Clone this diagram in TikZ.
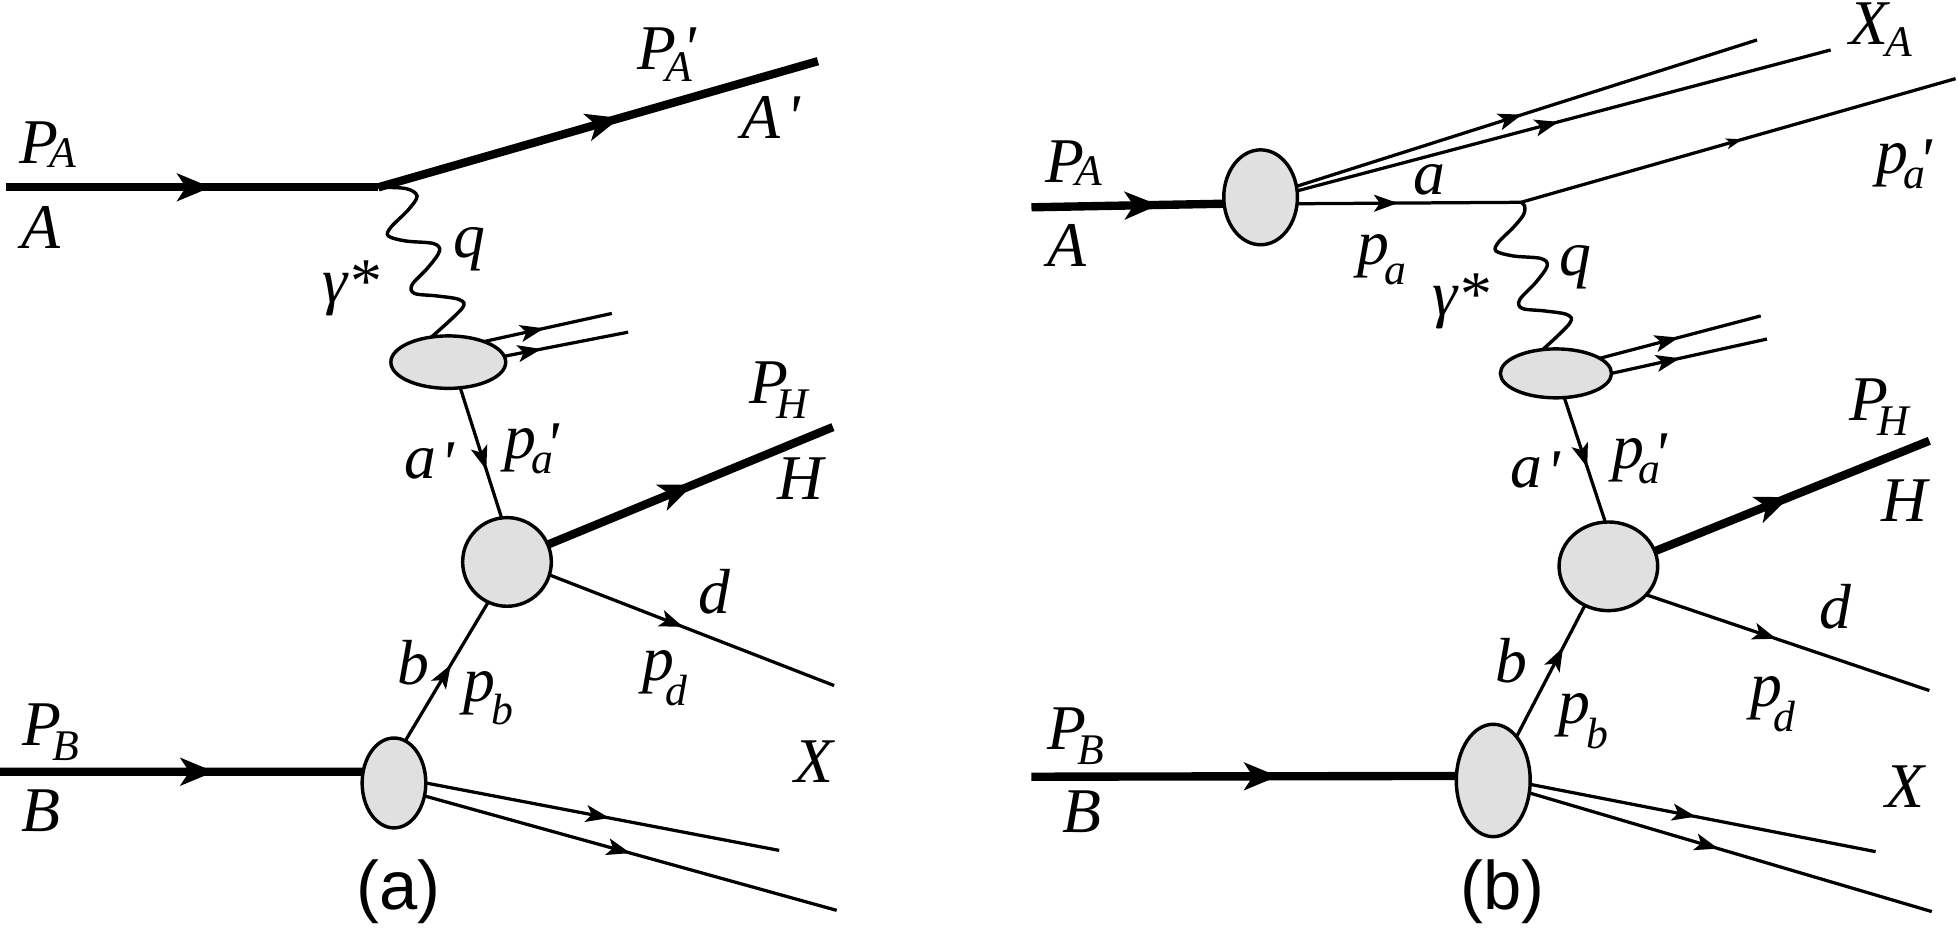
\documentclass[tikz,border=0pt]{standalone}
\usepackage{fontspec}
\setmainfont{Liberation Serif}[ItalicFont={Liberation Serif Italic}]
\newfontfamily\capfont{Liberation Sans}
\usetikzlibrary{arrows.meta,decorations.markings,shapes.geometric}
\definecolor{blobgray}{RGB}{224,224,224}
% subscript: drop, kern, text (overlapping box)
\newcommand\sbs[3]{\rlap{\kern#2\raisebox{-#1}{\fontsize{7}{7}\selectfont #3}}}
\newcommand\prm{\textquotesingle}
\begin{document}
\begin{tikzpicture}[x=0.2pt,y=-0.2pt,
  thickln/.style={line width=1.34pt},
  thinln/.style={line width=0.52pt},
  photon/.style={line width=0.55pt},
  blob/.style={ellipse,draw,line width=0.55pt,fill=blobgray,inner sep=0pt,outer sep=0pt},
  marr/.style={postaction={decorate,decoration={markings,mark=at position #1 with {\arrow{Stealth[length=3.8pt,width=2.7pt,inset=0.9pt]}}}}},
  marrsmall/.style={postaction={decorate,decoration={markings,mark=at position #1 with {\arrow{Stealth[length=2.6pt,width=1.7pt,inset=0.6pt]}}}}},
  marrthick/.style={postaction={decorate,decoration={markings,mark=at position #1 with {\arrow{Stealth[length=5.4pt,width=4.4pt,inset=1.4pt]}}}}},
  lbl/.style={anchor=base west,inner sep=0pt,font=\fontsize{10.2}{12}\selectfont\itshape},
  captext/.style={anchor=base,inner sep=0pt,font=\fontsize{11}{13}\selectfont\capfont}]
\fill[white] (0,0) rectangle (1568,747);
\useasboundingbox (0,0) rectangle (1568,747);

% ================= panel (a) =================
\coordinate (aS) at (5,150);
\coordinate (aV) at (303,150);
\coordinate (aAe) at (655,49);
\coordinate (aU1) at (490,251);
\coordinate (aU2) at (503,266);
\coordinate (aHe) at (667,342);
\coordinate (aDe) at (668,549);
\coordinate (aBs) at (0,618);
\coordinate (aX1) at (624,681);
\coordinate (aX2) at (670,729);

\node[blob,minimum width=18.4pt,minimum height=8.4pt] (ea1) at (359,290) {};
\node[blob,minimum width=14.2pt,minimum height=14.2pt] (ea2) at (406,450) {};
\node[blob,minimum width=10.2pt,minimum height=14.4pt] (ea3) at (315.5,627) {};

\draw[thickln,marrthick=0.55] (aS) -- (aV);
\draw[thickln,marrthick=0.55] (aV) -- (aAe);
\draw[photon] plot[smooth,tension=0.55] coordinates {(aV) (325,151) (334,157) (327,168) (313,182) (311,189) (325,193) (347,195) (352,201) (343,214) (330,228) (332,235) (350,237) (368,240) (370,247) (ea1.124)};
\draw[thinln,marr=0.47] (ea1.30) -- (aU1);
\draw[thinln,marr=0.3] (ea1.6) -- (aU2);
\draw[thinln,marr=0.63] (ea1.-65) -- (ea2.97);
\draw[thickln,marrthick=0.51] (ea2.23) -- (aHe);
\draw[thinln,marr=0.47] (ea2.-17) -- (aDe);
\draw[thinln,marr=0.55] (ea3.75) -- (ea2.-115);
\draw[thickln,marrthick=0.59] (aBs) -- (ea3.160);
\draw[thinln,marr=0.52] (ea3.0) -- (aX1);
\draw[thinln,marr=0.5] (ea3.-23) -- (aX2);

\node[lbl] (tPA) at (14.7,131) {P\sbs{0.55pt}{-1.4pt}{A}};
\node[lbl] (tA) at (16,198.6) {A};
\node[lbl] (tPAp) at (509.7,55.5) {P\sbs{2pt}{-1.8pt}{A}\kern1pt\prm};
\node[lbl] (tAp) at (592.5,110.8) {A\kern1pt\prm};
\node[lbl] (tgam) at (257,242) {γ*};
\node[lbl] (tq) at (362,206) {q};
\node[lbl] (tap) at (323,383) {a\kern0.6pt\raisebox{-1pt}{\prm}};
\node[lbl] (tpap) at (403,367) {p\sbs{2.4pt}{-0.8pt}{a}\kern1.5pt\raisebox{-1.2pt}{\prm}};
\node[lbl] (tPH) at (599,323) {P\sbs{2.4pt}{-1.8pt}{H}};
\node[lbl] (tH) at (621.8,400.3) {H};
\node[lbl] (td) at (558,491) {d};
\node[lbl] (tpd) at (513.7,545) {p\sbs{4pt}{-1.4pt}{d}};
\node[lbl] (tb) at (317.6,548.4) {b};
\node[lbl] (tpb) at (369.8,562) {p\sbs{3.7pt}{-0.6pt}{b}};
\node[lbl] (tPB) at (17,597) {P\sbs{2.4pt}{-1.5pt}{B}};
\node[lbl] (tB) at (16,666) {B};
\node[lbl] (tX) at (635,627) {X};
\node[captext] (capa) at (319,728) {(a)};

% ================= panel (b) =================
\coordinate (bS) at (826,166);
\coordinate (bXA1) at (1407,32);
\coordinate (bXA2) at (1466,40);
\coordinate (bV) at (1218,162);
\coordinate (bpa) at (1566,63);
\coordinate (bU1) at (1410,253);
\coordinate (bU2) at (1415,271.5);
\coordinate (bHe) at (1545,353);
\coordinate (bDe) at (1545,553);
\coordinate (bBs) at (826,622);
\coordinate (bX1) at (1502,682);
\coordinate (bX2) at (1547,730);

\node[blob,minimum width=11.8pt,minimum height=15.2pt] (eb0) at (1009.5,158) {};
\node[blob,minimum width=17.8pt,minimum height=7.84pt] (eb1) at (1246,299) {};
\node[blob,minimum width=15.8pt,minimum height=14.2pt] (eb2) at (1288,453.5) {};
\node[blob,minimum width=11.84pt,minimum height=18pt] (eb3) at (1195.8,625) {};

\draw[thickln,marrthick=0.66] (bS) -- (eb0.190);
\draw[thinln,marr=0.49] (eb0.17) -- (bXA1);
\draw[thinln,marr=0.49] (eb0.10) -- (bXA2);
\draw[thinln,marr=0.45] (eb0.-10) -- (bV);
\draw[thinln,marrsmall=0.51] (bV) -- (bpa);
\draw[photon] plot[smooth,tension=0.55] coordinates {(bV) (1221,165) (1220,172) (1212,182) (1200,194) (1198,201) (1212,205) (1234,207) (1239,213) (1230,226) (1217,240) (1219,247) (1237,249) (1255,252) (1257,259) (eb1.119)};
\draw[thinln,marr=0.49] (eb1.19) -- (bU1);
\draw[thinln,marr=0.44] (eb1.0) -- (bU2);
\draw[thinln,marr=0.56] (eb1.-71) -- (eb2.94);
\draw[thickln,marrthick=0.49] (eb2.18) -- (bHe);
\draw[thinln,marr=0.46] (eb2.-37) -- (bDe);
\draw[thinln,marr=0.68] (eb3.62) -- (eb2.-121);
\draw[thickln,marrthick=0.58] (bBs) -- (eb3.173);
\draw[thinln,marr=0.48] (eb3.-6) -- (bX1);
\draw[thinln,marr=0.47] (eb3.-19) -- (bX2);

\node[lbl] (tPA2) at (836,146) {P\sbs{0.55pt}{-1.4pt}{A}};
\node[lbl] (tA2) at (838,213.6) {A};
\node[lbl] (ta2) at (1131,156) {a};
\node[lbl] (tpa2) at (1086,212) {p\sbs{3.2pt}{-0.8pt}{a}};
\node[lbl] (tXA) at (1480,36) {X\sbs{1.8pt}{-0.4pt}{A}};
\node[lbl] (tpap2) at (1502,139) {p\sbs{2.4pt}{-0.8pt}{a}\kern1.5pt\raisebox{-1.2pt}{\prm}};
\node[lbl] (tgam2) at (1146,253) {γ*};
\node[lbl] (tq2) at (1248,221) {q};
\node[lbl] (tap2) at (1209,390) {a\kern0.6pt\raisebox{-1pt}{\prm}};
\node[lbl] (tpap3) at (1290,375) {p\sbs{2.4pt}{-0.8pt}{a}\kern1.5pt\raisebox{-1.2pt}{\prm}};
\node[lbl] (tPH2) at (1480,337) {P\sbs{2.4pt}{-1.8pt}{H}};
\node[lbl] (tH2) at (1506,418) {H};
\node[lbl] (td2) at (1456,503.7) {d};
\node[lbl] (tpd2) at (1400.8,565.6) {p\sbs{4pt}{-1.4pt}{d}};
\node[lbl] (tb2) at (1196.5,546.6) {b};
\node[lbl] (tpb2) at (1247,579) {p\sbs{4pt}{-0.6pt}{b}};
\node[lbl] (tPB2) at (838,600) {P\sbs{2.4pt}{-1.5pt}{B}};
\node[lbl] (tB2) at (850,667) {B};
\node[lbl] (tX2) at (1509,647) {X};
\node[captext] (capb) at (1203,728) {(b)};
\end{tikzpicture}
\end{document}
